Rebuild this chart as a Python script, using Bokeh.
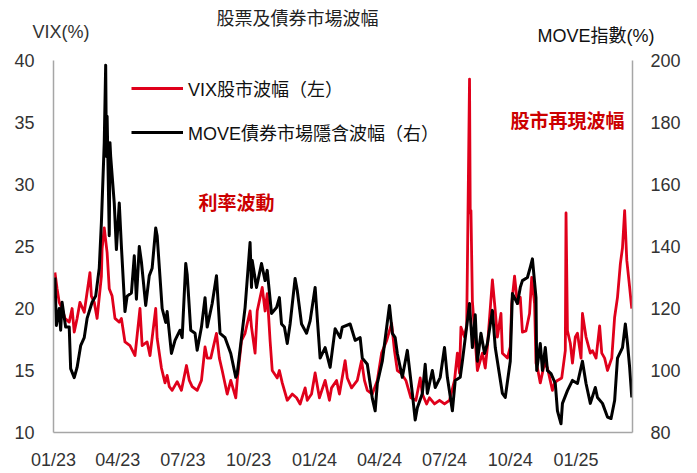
from bokeh.plotting import figure
from bokeh.layouts import column
from bokeh.models import (Range1d, LinearAxis, FixedTicker, DatetimeTickFormatter,
                          Label, Legend, LegendItem)
from bokeh.embed import file_html
from bokeh.resources import INLINE
import pandas as pd

# ---------------- data ----------------
vix_dates = [
    "2023-01-03", "2023-01-06", "2023-01-09", "2023-01-13", "2023-01-17", "2023-01-23", "2023-01-27",
    "2023-01-30", "2023-02-03", "2023-02-07", "2023-02-13", "2023-02-21", "2023-02-23", "2023-02-27",
    "2023-03-03", "2023-03-09", "2023-03-10", "2023-03-13", "2023-03-15", "2023-03-17", "2023-03-20",
    "2023-03-24", "2023-03-28", "2023-04-03", "2023-04-06", "2023-04-11", "2023-04-18", "2023-04-25",
    "2023-05-02", "2023-05-05", "2023-05-12", "2023-05-16", "2023-05-24", "2023-05-26", "2023-06-01",
    "2023-06-06", "2023-06-09", "2023-06-12", "2023-06-16", "2023-06-23", "2023-06-29", "2023-07-06",
    "2023-07-10", "2023-07-14", "2023-07-21", "2023-07-27", "2023-08-01", "2023-08-04", "2023-08-09",
    "2023-08-17", "2023-08-21", "2023-08-25", "2023-09-01", "2023-09-06", "2023-09-13", "2023-09-15",
    "2023-09-21", "2023-09-26", "2023-10-03", "2023-10-05", "2023-10-10", "2023-10-13", "2023-10-20",
    "2023-10-24", "2023-10-27", "2023-10-31", "2023-11-03", "2023-11-10", "2023-11-13", "2023-11-17",
    "2023-11-24", "2023-12-01", "2023-12-07", "2023-12-12", "2023-12-19", "2023-12-22", "2023-12-28",
    "2024-01-02", "2024-01-08", "2024-01-16", "2024-01-22", "2024-01-25", "2024-02-01", "2024-02-05",
    "2024-02-13", "2024-02-16", "2024-02-22", "2024-03-01", "2024-03-07", "2024-03-11", "2024-03-15",
    "2024-03-22", "2024-03-29", "2024-04-04", "2024-04-11", "2024-04-18", "2024-04-22", "2024-04-26",
    "2024-05-01", "2024-05-08", "2024-05-15", "2024-05-22", "2024-05-28", "2024-05-31", "2024-06-06",
    "2024-06-10", "2024-06-17", "2024-06-24", "2024-07-01", "2024-07-08", "2024-07-15", "2024-07-19",
    "2024-07-22", "2024-07-24", "2024-07-29", "2024-08-01", "2024-08-02", "2024-08-05", "2024-08-06",
    "2024-08-07", "2024-08-09", "2024-08-13", "2024-08-16", "2024-08-23", "2024-08-27", "2024-08-30",
    "2024-09-06", "2024-09-10", "2024-09-13", "2024-09-18", "2024-09-20", "2024-09-27", "2024-10-01",
    "2024-10-03", "2024-10-07", "2024-10-11", "2024-10-15", "2024-10-18", "2024-10-23", "2024-10-28",
    "2024-10-31", "2024-11-04", "2024-11-06", "2024-11-08", "2024-11-12", "2024-11-18", "2024-11-22",
    "2024-11-29", "2024-12-02", "2024-12-06", "2024-12-12", "2024-12-17", "2024-12-18", "2024-12-20",
    "2024-12-24", "2024-12-27", "2024-12-31", "2025-01-03", "2025-01-08", "2025-01-10", "2025-01-15",
    "2025-01-21", "2025-01-24", "2025-01-29", "2025-02-03", "2025-02-06", "2025-02-10", "2025-02-14",
    "2025-02-20", "2025-02-24", "2025-02-28", "2025-03-04", "2025-03-07", "2025-03-10", "2025-03-13",
    "2025-03-17", "2025-03-20",
]
vix_values = [
    22.9, 21.6, 20.5, 20.0, 19.2, 18.9, 20.0,
    18.1, 19.2, 20.5, 19.7, 22.9, 21.0, 20.5,
    19.2, 22.6, 24.8, 26.5, 25.5, 24.5, 21.6,
    21.0, 19.2, 18.9, 19.2, 17.3, 17.0, 16.2,
    20.0, 17.0, 17.3, 16.2, 20.0, 17.6, 15.2,
    14.0, 14.6, 13.7, 13.4, 14.1, 13.4, 15.4,
    14.2, 13.7, 13.4, 14.2, 16.9, 16.0, 16.0,
    18.0, 16.0, 15.0, 13.1, 14.2, 12.8, 14.2,
    17.4, 18.0, 19.8, 18.5, 16.4, 19.8, 21.7,
    19.8, 21.2, 17.4, 15.0, 14.4, 15.0, 14.0,
    12.6, 13.1, 12.8, 12.3, 13.6, 12.6, 13.1,
    14.8, 12.8, 14.2, 12.6, 13.6, 14.2, 13.1,
    15.8, 14.4, 13.6, 14.2, 15.8, 14.2, 13.4,
    13.1, 14.2, 16.4, 17.4, 18.8, 16.6, 15.0,
    14.8, 14.2, 12.8, 12.6, 14.4, 13.1, 12.3,
    12.8, 12.3, 12.6, 12.3, 12.6, 14.2, 16.4,
    14.8, 18.5, 17.7, 18.6, 23.3, 38.5, 27.7,
    27.9, 20.6, 17.4, 15.0, 16.4, 15.2, 16.9,
    22.3, 19.8, 17.7, 19.6, 16.4, 16.0, 16.9,
    20.4, 22.6, 20.4, 20.9, 18.1, 18.2, 19.6,
    22.5, 20.4, 15.6, 15.2, 14.0, 15.6, 15.2,
    13.4, 14.0, 14.2, 14.4, 16.6, 27.7, 18.2,
    17.2, 15.6, 17.7, 18.0, 16.0, 19.6, 17.7,
    16.4, 16.6, 16.0, 18.6, 16.4, 16.0, 15.0,
    16.0, 19.3, 20.9, 23.6, 24.9, 27.9, 23.9,
    21.7, 20.0,
]

move_dates = [
    "2023-01-03", "2023-01-05", "2023-01-09", "2023-01-11", "2023-01-13", "2023-01-18", "2023-01-23",
    "2023-01-25", "2023-01-30", "2023-02-03", "2023-02-08", "2023-02-13", "2023-02-17", "2023-02-24",
    "2023-03-01", "2023-03-06", "2023-03-09", "2023-03-13", "2023-03-15", "2023-03-16", "2023-03-17",
    "2023-03-20", "2023-03-21", "2023-03-22", "2023-03-27", "2023-03-30", "2023-04-03", "2023-04-06",
    "2023-04-11", "2023-04-14", "2023-04-20", "2023-04-24", "2023-04-27", "2023-05-01", "2023-05-04",
    "2023-05-10", "2023-05-15", "2023-05-19", "2023-05-24", "2023-05-26", "2023-06-02", "2023-06-07",
    "2023-06-09", "2023-06-15", "2023-06-20", "2023-06-27", "2023-06-30", "2023-07-05", "2023-07-07",
    "2023-07-12", "2023-07-18", "2023-07-21", "2023-07-27", "2023-08-01", "2023-08-04", "2023-08-11",
    "2023-08-17", "2023-08-22", "2023-08-29", "2023-09-06", "2023-09-13", "2023-09-15", "2023-09-21",
    "2023-09-26", "2023-10-03", "2023-10-05", "2023-10-06", "2023-10-12", "2023-10-19", "2023-10-24",
    "2023-10-27", "2023-11-02", "2023-11-09", "2023-11-13", "2023-11-16", "2023-11-20", "2023-11-24",
    "2023-11-28", "2023-12-05", "2023-12-08", "2023-12-14", "2023-12-21", "2023-12-26", "2024-01-02",
    "2024-01-05", "2024-01-09", "2024-01-16", "2024-01-23", "2024-01-30", "2024-02-06", "2024-02-09",
    "2024-02-20", "2024-02-27", "2024-03-05", "2024-03-08", "2024-03-15", "2024-03-22", "2024-03-26",
    "2024-03-29", "2024-04-05", "2024-04-15", "2024-04-19", "2024-04-23", "2024-04-26", "2024-05-03",
    "2024-05-10", "2024-05-17", "2024-05-21", "2024-05-24", "2024-05-31", "2024-06-04", "2024-06-07",
    "2024-06-14", "2024-06-18", "2024-06-25", "2024-07-01", "2024-07-05", "2024-07-12", "2024-07-16",
    "2024-07-23", "2024-07-26", "2024-08-02", "2024-08-05", "2024-08-09", "2024-08-13", "2024-08-16",
    "2024-08-21", "2024-08-26", "2024-08-30", "2024-09-06", "2024-09-10", "2024-09-13", "2024-09-20",
    "2024-09-24", "2024-10-01", "2024-10-04", "2024-10-11", "2024-10-15", "2024-10-18", "2024-10-25",
    "2024-10-29", "2024-11-01", "2024-11-06", "2024-11-07", "2024-11-12", "2024-11-15", "2024-11-19",
    "2024-11-22", "2024-11-27", "2024-12-03", "2024-12-06", "2024-12-11", "2024-12-13", "2024-12-20",
    "2024-12-27", "2025-01-03", "2025-01-10", "2025-01-15", "2025-01-21", "2025-01-28", "2025-01-31",
    "2025-02-07", "2025-02-14", "2025-02-19", "2025-02-24", "2025-02-28", "2025-03-07", "2025-03-11",
    "2025-03-14", "2025-03-17", "2025-03-20",
]
move_values = [
    130.0, 114.5, 120.0, 113.0, 122.0, 114.0, 114.0,
    100.6, 97.7, 101.0, 108.0, 110.6, 116.8, 122.0,
    124.0, 133.0, 147.7, 173.5, 198.5, 169.0, 182.0,
    143.5, 173.5, 169.0, 154.0, 139.0, 154.0, 140.0,
    119.0, 124.0, 125.0, 137.0, 123.0, 140.0, 135.0,
    121.0, 130.6, 133.0, 146.0, 143.5, 120.0, 115.5,
    119.0, 105.5, 109.7, 113.0, 110.6, 134.5, 131.0,
    113.0, 112.0, 106.5, 114.0, 123.5, 114.0, 121.6,
    130.6, 112.0, 110.6, 105.5, 97.8, 99.0, 110.6,
    120.3, 141.3, 126.8, 135.5, 126.8, 134.5, 129.0,
    132.3, 118.4, 120.3, 123.5, 115.0, 114.0, 108.7,
    115.0, 129.7, 125.8, 115.0, 112.0, 116.0, 126.8,
    117.0, 104.0, 107.4, 101.0, 113.5, 110.6, 114.0,
    115.0, 109.7, 110.6, 104.0, 102.0, 91.0, 87.0,
    95.8, 103.0, 121.0, 112.0, 110.6, 105.5, 97.8,
    106.5, 92.6, 84.0, 88.0, 92.6, 102.0, 92.6,
    100.0, 94.5, 97.8, 107.4, 97.8, 87.0, 96.8,
    97.8, 103.0, 116.0, 121.6, 107.4, 118.0, 103.0,
    112.0, 105.5, 108.7, 119.4, 107.4, 103.0, 92.6,
    91.3, 103.0, 124.8, 121.6, 126.8, 129.0, 130.0,
    133.3, 136.0, 123.5, 100.0, 108.7, 100.0, 107.4,
    100.0, 99.0, 95.8, 87.0, 82.8, 89.4, 93.5,
    96.8, 95.8, 103.0, 95.8, 89.4, 94.5, 91.3,
    89.4, 85.0, 84.5, 90.3, 104.0, 107.4, 115.0,
    108.7, 101.0, 91.3,
]

x_tick_dates = ["2023-01-01", "2023-04-01", "2023-07-01", "2023-10-01", "2024-01-01",
                "2024-04-01", "2024-07-01", "2024-10-01", "2025-01-01"]
vix_ticks = [10, 15, 20, 25, 30, 35, 40]
move_ticks = [80, 100, 120, 140, 160, 180, 200]

title_text = "股票及債券市場波幅"
left_title = "VIX(%)"
right_title = "MOVE指數(%)"
vix_name = "VIX股市波幅（左）"
move_name = "MOVE債券市場隱含波幅（右）"
note_rates = "利率波動"
note_stocks = "股市再現波幅"

# ---------------- styles ----------------
RED = "#e0001b"
BLACK = "#000000"
AXIS_GRAY = "#a6a6a6"
TXT = "#333333"
LAT = "'Liberation Sans', 'Noto Sans CJK TC'"
CJK = "'Noto Sans CJK TC'"
W = 697
TOP_H = 46

# ---------------- header strip (title + axis titles) ----------------
head = figure(width=W, height=TOP_H, output_backend="svg", toolbar_location=None,
              x_axis_location=None, y_axis_location=None,
              min_border=0, x_range=Range1d(0, 1), y_range=Range1d(0, 1))
head.outline_line_color = None
head.xgrid.visible = False
head.ygrid.visible = False
head.frame_align = False


def head_label(text, x, y_from_top, font, size, color, align="left"):
    head.add_layout(Label(x=x, y=TOP_H - y_from_top, x_units="screen", y_units="screen",
                          text=text, text_font=font, text_font_size=size, text_color=color,
                          text_align=align, text_baseline="middle"))


head_label(title_text, 297, 16.5, CJK, "18px", "#222222", align="center")
head_label(left_title, 32, 31.5, LAT, "18px", TXT)
head_label(right_title, 537, 35.5, LAT, "18px", "#111111")

# ---------------- main chart ----------------
vx = pd.to_datetime(vix_dates)
mx = pd.to_datetime(move_dates)
ticks_ms = [pd.Timestamp(d).value // 10**6 for d in x_tick_dates]

p = figure(width=W, height=473 - TOP_H, x_axis_type="datetime",
           x_range=Range1d(pd.Timestamp("2023-01-01"), pd.Timestamp("2025-03-21")),
           y_range=Range1d(10, 40),
           output_backend="svg", toolbar_location=None,
           min_border_left=53, min_border_right=65, min_border_top=60 - TOP_H, min_border_bottom=41)
p.frame_align = False
p.extra_y_ranges = {"move": Range1d(80, 200)}
p.outline_line_color = None
p.xgrid.visible = False
p.ygrid.visible = False

r_vix = p.line(vx, vix_values, color=RED, line_width=2.8, line_join="round")
r_move = p.line(mx, move_values, color=BLACK, line_width=3, line_join="round", y_range_name="move")

xa = p.xaxis[0]
xa.ticker = FixedTicker(ticks=ticks_ms)
xa.formatter = DatetimeTickFormatter(days="%m/%y", months="%m/%y", years="%m/%y")
ya = p.yaxis[0]
ya.ticker = FixedTicker(ticks=vix_ticks)
ra = LinearAxis(y_range_name="move", ticker=FixedTicker(ticks=move_ticks))
p.add_layout(ra, "right")

for ax in (xa, ya, ra):
    ax.axis_line_color = AXIS_GRAY
    ax.axis_line_width = 1.5
    ax.major_tick_line_color = None
    ax.minor_tick_line_color = None
    ax.major_tick_out = 0
    ax.major_tick_in = 0
    ax.major_label_text_font = LAT
    ax.major_label_text_font_size = "18px"
    ax.major_label_text_color = TXT
xa.major_label_standoff = 17
ya.major_label_standoff = 19
ra.major_label_standoff = 18

legend = Legend(items=[LegendItem(label=vix_name, renderers=[r_vix]),
                       LegendItem(label=move_name, renderers=[r_move])],
                location=(78, 287), orientation="vertical",
                padding=0, margin=0, spacing=18,
                glyph_width=52, glyph_height=20, label_height=20, label_standoff=5,
                label_text_font=LAT, label_text_font_size="18px", label_text_color="#111111",
                border_line_color=None, background_fill_alpha=0)
p.add_layout(legend, "center")


def note(text, x, y, size="19px"):
    p.add_layout(Label(x=x, y=y, x_units="screen", y_units="screen", text=text,
                       text_font=CJK, text_font_size=size, text_color="#cc0000",
                       text_align="left", text_baseline="middle", text_font_style="bold"))


note(note_rates, 145, 231)
note(note_stocks, 457, 313)

layout = column(head, p, spacing=0)
open("out.html", "w").write(file_html(layout, INLINE))
